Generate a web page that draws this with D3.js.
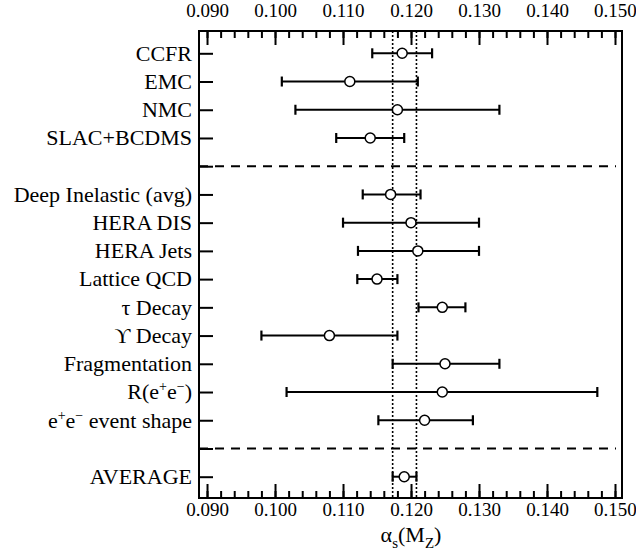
<!DOCTYPE html>
<html>
<head>
<meta charset="utf-8">
<script src="https://cdn.jsdelivr.net/npm/d3@7"></script>
<style>
  body { margin: 0; background: #fff; }
  text { font-family: "Liberation Serif", "Times New Roman", serif; fill: #000; }
</style>
</head>
<body>
<svg id="chart" width="636" height="558"></svg>
<script>
// measurements, one per row; null rows are the dashed separators
var labels = ["CCFR", "EMC", "NMC", "SLAC+BCDMS", null,
  "Deep Inelastic (avg)", "HERA DIS", "HERA Jets", "Lattice QCD", "τ Decay", "ϒ Decay",
  "Fragmentation", "R(e+e-)", "e+e- event shape", null, "AVERAGE"];
var values = [0.1187, 0.111, 0.118, 0.114, null,
  0.117, 0.120, 0.121, 0.115, 0.1246, 0.108,
  0.125, 0.1246, 0.122, null, 0.119];
var lows = [0.1143, 0.101, 0.103, 0.109, null,
  0.1129, 0.110, 0.1122, 0.1121, 0.1211, 0.098,
  0.1173, 0.1017, 0.1152, null, 0.1173];
var highs = [0.1231, 0.121, 0.133, 0.119, null,
  0.1214, 0.130, 0.130, 0.118, 0.128, 0.118,
  0.133, 0.1474, 0.1291, null, 0.1208];
var band = [0.1173, 0.1208]; // dotted lines (average range)
var majorTicks = [0.090, 0.100, 0.110, 0.120, 0.130, 0.140, 0.150];
var minorTicks = d3.range(0, 31).map(function(i) { return +(0.090 + i * 0.002).toFixed(3); });

var svg = d3.select("#chart");
// note: "top" clashes with window.top, so use plotTop etc
var plotLeft = 199, plotRight = 622, plotTop = 31, plotBottom = 498;

var x = d3.scaleLinear().domain([0.08882, 0.15103]).range([plotLeft, plotRight]);
var y = d3.scaleLinear().domain([0, 15]).range([53.3, 476.7]);

// dotted band lines
svg.selectAll("line.band")
  .data(band)
  .enter()
  .append("line")
  .attr("class", "band")
  .attr("x1", d => x(d)).attr("x2", d => x(d))
  .attr("y1", plotTop).attr("y2", plotBottom)
  .attr("stroke", "#000")
  .attr("stroke-width", 1.6)
  .attr("stroke-dasharray", "2,2");

// dashed separators
var sepRows = labels.map((d, i) => d === null ? i : -1).filter(i => i >= 0);
svg.selectAll("line.sep")
  .data(sepRows)
  .enter()
  .append("line")
  .attr("class", "sep")
  .attr("x1", plotLeft).attr("x2", plotRight - 6)
  .attr("y1", d => y(d)).attr("y2", d => y(d))
  .attr("stroke", "#000")
  .attr("stroke-width", 2)
  .attr("stroke-dasharray", "9,7");

// axes
function styleAxis(g) {
  g.select(".domain").remove();
  g.selectAll(".tick line").attr("stroke", "#000").attr("stroke-width", 2);
  g.selectAll(".tick text").style("font-size", "19px").attr("fill", "#000");
}
svg.append("g").attr("transform", `translate(0,${plotTop})`)
  .call(d3.axisTop(x).tickValues(minorTicks).tickSizeInner(-7).tickSizeOuter(0).tickFormat(""))
  .call(styleAxis);
svg.append("g").attr("transform", `translate(0,${plotTop})`)
  .call(d3.axisTop(x).tickValues(majorTicks).tickSizeInner(-14).tickSizeOuter(0).tickPadding(14).tickFormat(d3.format(".3f")))
  .call(styleAxis);
svg.append("g").attr("transform", `translate(0,${plotBottom})`)
  .call(d3.axisBottom(x).tickValues(minorTicks).tickSizeInner(-7).tickSizeOuter(0).tickFormat(""))
  .call(styleAxis);
svg.append("g").attr("transform", `translate(0,${plotBottom})`)
  .call(d3.axisBottom(x).tickValues(majorTicks).tickSizeInner(-14).tickSizeOuter(0).tickPadding(5).tickFormat(d3.format(".3f")))
  .call(styleAxis);
svg.append("g").attr("transform", `translate(${plotLeft},0)`)
  .call(d3.axisLeft(y).tickValues(d3.range(0, 16)).tickSizeInner(-14).tickSizeOuter(0).tickFormat(""))
  .call(styleAxis);

// frame
svg.append("rect")
  .attr("x", plotLeft).attr("y", plotTop)
  .attr("width", plotRight - plotLeft).attr("height", plotBottom - plotTop)
  .attr("fill", "none").attr("stroke", "#000").attr("stroke-width", 2);

// row labels
var rows = labels.map((d, i) => ({ label: d, i: i, v: values[i], lo: lows[i], hi: highs[i] }))
  .filter(d => d.label !== null);

var lab = svg.selectAll("text.lab")
  .data(rows)
  .enter()
  .append("text")
  .attr("class", "lab")
  .attr("x", 192)
  .attr("y", d => y(d.i))
  .attr("dy", "0.33em")
  .attr("text-anchor", "end")
  .style("font-size", "22px");

lab.each(function(d) {
  var t = d3.select(this);
  if (d.label === "R(e+e-)") {
    t.append("tspan").text("R(e");
    t.append("tspan").attr("dy", -8).style("font-size", "14px").text("+");
    t.append("tspan").attr("dy", 8).text("e");
    t.append("tspan").attr("dy", -8).style("font-size", "14px").text("−");
    t.append("tspan").attr("dy", 8).text(")");
  } else if (d.label === "e+e- event shape") {
    t.append("tspan").text("e");
    t.append("tspan").attr("dy", -8).style("font-size", "14px").text("+");
    t.append("tspan").attr("dy", 8).text("e");
    t.append("tspan").attr("dy", -8).style("font-size", "14px").text("−");
    t.append("tspan").attr("dy", 8).text(" event shape");
  } else {
    t.text(d.label);
  }
});

// error bars
var bars = svg.selectAll("g.bar")
  .data(rows)
  .enter()
  .append("g")
  .attr("class", "bar");

bars.append("line")
  .attr("x1", d => x(d.lo)).attr("x2", d => x(d.hi))
  .attr("y1", d => y(d.i)).attr("y2", d => y(d.i))
  .attr("stroke", "#000").attr("stroke-width", 2);
bars.append("line")
  .attr("x1", d => x(d.lo)).attr("x2", d => x(d.lo))
  .attr("y1", d => y(d.i) - 5).attr("y2", d => y(d.i) + 5)
  .attr("stroke", "#000").attr("stroke-width", 2.2);
bars.append("line")
  .attr("x1", d => x(d.hi)).attr("x2", d => x(d.hi))
  .attr("y1", d => y(d.i) - 5).attr("y2", d => y(d.i) + 5)
  .attr("stroke", "#000").attr("stroke-width", 2.2);
bars.append("circle")
  .attr("cx", d => x(d.v)).attr("cy", d => y(d.i))
  .attr("r", 5)
  .attr("fill", "#fff").attr("stroke", "#000").attr("stroke-width", 1.5);

// x axis title: alpha_s(M_Z)
var title = svg.append("text")
  .attr("x", 411).attr("y", 542)
  .attr("text-anchor", "middle")
  .style("font-size", "22px");
title.append("tspan").text("α");
title.append("tspan").attr("dy", 6).style("font-size", "15px").text("s");
title.append("tspan").attr("dy", -6).text("(M");
title.append("tspan").attr("dy", 6).style("font-size", "15px").text("Z");
title.append("tspan").attr("dy", -6).text(")");
</script>
</body>
</html>
